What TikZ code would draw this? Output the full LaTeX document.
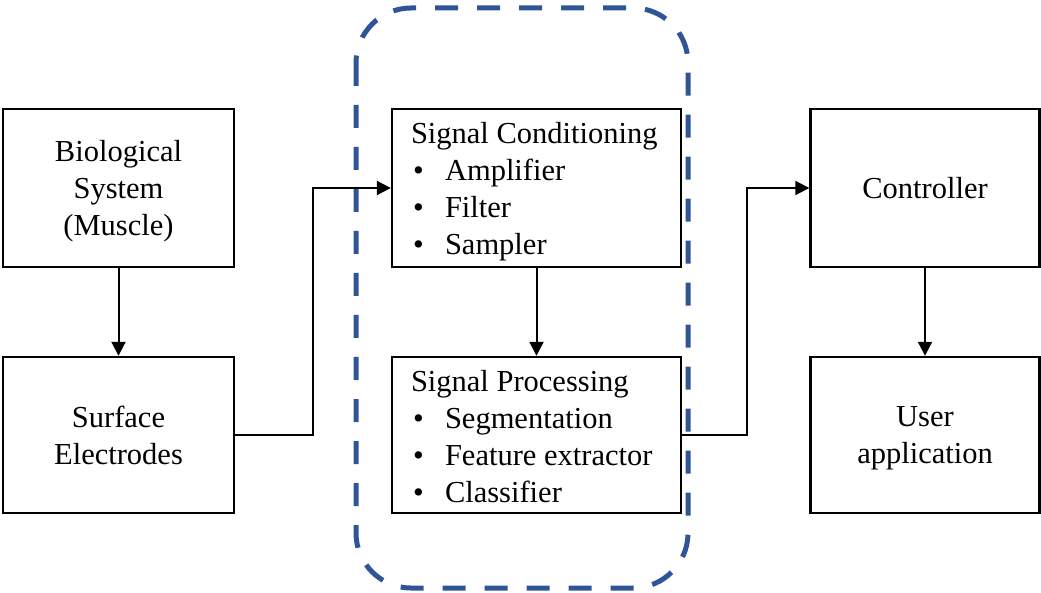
\documentclass[tikz,border=0pt]{standalone}
\usepackage{fontspec}
\setmainfont{Liberation Serif}
\usetikzlibrary{arrows.meta}
\definecolor{groupblue}{HTML}{2F5597}
\tikzset{
  boxfont/.style={font=\fontsize{30.5}{37}\selectfont},
  block/.style={draw=black, line width=2.4pt, fill=white, align=center,
    text depth=0pt, inner sep=0pt, boxfont},
  listtext/.style={inner sep=0pt, anchor=base west, boxfont},
  conn/.style={draw=black, line width=2pt,
    -{Triangle[length=14pt,width=14pt]}},
  group/.style={draw=groupblue, line width=5pt, rounded corners=55pt,
    dash pattern=on 23pt off 19pt},
}
\newcommand{\itm}[1]{\makebox[34pt][l]{\hspace{2pt}\textbullet}#1}
\newcommand{\blocklist}[1]{\begin{tabular}[t]{@{}l@{}}#1\end{tabular}}
\begin{document}
\begin{tikzpicture}[x=1pt, y=-1pt]
  \useasboundingbox (0,0) rectangle (1041,593);

  % processing group outline
  \draw[group] (356,8) rectangle (688,588);

  % left column
  \node[block, minimum width=231pt, minimum height=158pt] (bio) at (118.5,188)
    {Biological\\System\\(Muscle)};
  \node[block, minimum width=231pt, minimum height=156pt] (surf) at (118.5,435)
    {Surface\\Electrodes};

  % middle column: framed boxes with left-aligned lists
  \node[block, minimum width=289pt, minimum height=158pt] (cond) at (536.5,188) {};
  \node[listtext] (condtext) at ([xshift=20pt, yshift=-35.5pt]cond.north west)
    {\blocklist{Signal Conditioning\\\itm{Amplifier}\\\itm{Filter}\\\itm{Sampler}}};
  \node[block, minimum width=289pt, minimum height=156pt] (proc) at (536.5,435) {};
  \node[listtext] (proctext) at ([xshift=20pt, yshift=-35.5pt]proc.north west)
    {\blocklist{Signal Processing\\\itm{Segmentation}\\\itm{Feature extractor}\\\itm{Classifier}}};

  % right column
  \node[block, minimum width=229pt, minimum height=158pt] (ctrl) at (925,188)
    {Controller};
  \node[block, minimum width=229pt, minimum height=156pt] (user) at (925,435)
    {User\\application};

  % connectors
  \draw[conn] (bio.south) -- (surf.north);
  \draw[conn] (surf.east) -- ++(78,0) |- (cond.west);
  \draw[conn] (cond.south) -- (proc.north);
  \draw[conn] (proc.east) -- ++(65,0) |- (ctrl.west);
  \draw[conn] (ctrl.south) -- (user.north);
\end{tikzpicture}
\end{document}
